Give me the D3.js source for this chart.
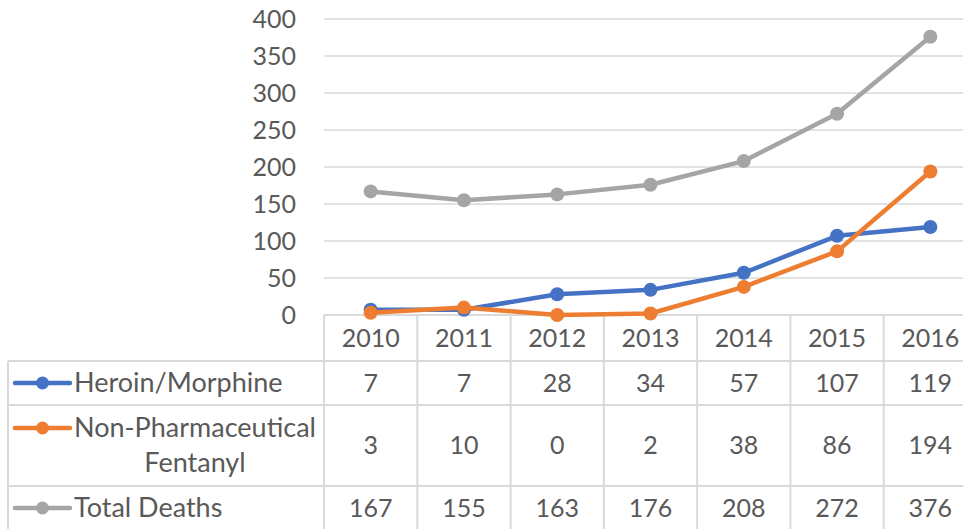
<!DOCTYPE html>
<html>
<head>
<meta charset="utf-8">
<script src="https://cdn.jsdelivr.net/npm/d3@7"></script>
<style>
  html, body { margin: 0; padding: 0; background: #fff; }
  svg { display: block; }
  text { font-family: "Lato", "Liberation Sans", sans-serif; fill: #595959; }
</style>
</head>
<body>
<svg id="chart" width="965" height="529"></svg>
<script>
const years = ["2010", "2011", "2012", "2013", "2014", "2015", "2016"];
const heroin = [7, 7, 28, 34, 57, 107, 119];
const fentanyl = [3, 10, 0, 2, 38, 86, 194];
const total = [167, 155, 163, 176, 208, 272, 376];
const yTicks = [0, 50, 100, 150, 200, 250, 300, 350, 400];
const seriesNames = ["Heroin/Morphine", "Non-Pharmaceutical Fentanyl", "Total Deaths"];
const seriesLabelLines = [["Heroin/Morphine"], ["Non-Pharmaceutical", "Fentanyl"], ["Total Deaths"]];
const seriesColors = ["#4472C4", "#ED7D31", "#A5A5A5"];

const series = [heroin, fentanyl, total].map((vals, i) => ({
  name: seriesNames[i], lines: seriesLabelLines[i], color: seriesColors[i],
  values: vals.map((v, j) => ({ year: years[j], value: v }))
}));

const W = 965, H = 529;
const plotLeft = 324, plotRight = 977, plotTop = 19, plotBottom = 315;
const tableLeft = 8, visibleRight = 963;
const rowEdges = [315, 361, 405, 486, 530];
const gridColor = "#D9D9D9";
const fontSize = 25;
const labelFontSize = 27;

const svg = d3.select("#chart");

const x = d3.scaleBand().domain(years).range([plotLeft, plotRight]);
const y = d3.scaleLinear().domain([0, 400]).range([plotBottom, plotTop]);

// gridlines
svg.append("g").selectAll("line").data(yTicks.filter(t => t > 0)).join("line")
  .attr("x1", plotLeft).attr("x2", visibleRight)
  .attr("y1", d => y(d)).attr("y2", d => y(d))
  .attr("stroke", gridColor).attr("stroke-width", 1.5);

// y axis labels
const yAxis = d3.axisLeft(y).tickValues(yTicks).tickSize(0).tickPadding(0).tickFormat(d3.format("d"));
const yg = svg.append("g").attr("transform", `translate(296,0)`).call(yAxis);
yg.select(".domain").remove();
yg.selectAll("text").attr("font-size", fontSize).style("font-family", "Lato, 'Liberation Sans', sans-serif").attr("fill", "#595959").attr("dy", "0.35em");

// table grid
const tg = svg.append("g").attr("stroke", gridColor).attr("stroke-width", 2);
tg.append("line").attr("x1", plotLeft).attr("x2", visibleRight).attr("y1", rowEdges[0]).attr("y2", rowEdges[0]);
rowEdges.slice(1, 4).forEach(e => {
  tg.append("line").attr("x1", tableLeft).attr("x2", visibleRight).attr("y1", e).attr("y2", e);
});
tg.append("line").attr("x1", tableLeft).attr("x2", tableLeft).attr("y1", rowEdges[1]).attr("y2", H);
years.forEach(yr => {
  tg.append("line").attr("x1", x(yr)).attr("x2", x(yr)).attr("y1", rowEdges[0]).attr("y2", H);
});

// header years
svg.append("g").selectAll("text").data(years).join("text")
  .attr("x", d => x(d) + x.bandwidth() / 2)
  .attr("y", (rowEdges[0] + rowEdges[1]) / 2)
  .attr("dy", "0.35em").attr("text-anchor", "middle").attr("font-size", fontSize)
  .text(d => d);

// rows
series.forEach((s, i) => {
  const top = rowEdges[i + 1], bottom = rowEdges[i + 2];
  const cy = (top + bottom) / 2;
  const lineH = 35;
  const firstLineY = cy - (s.lines.length - 1) * lineH / 2;
  svg.append("line").attr("x1", 15).attr("x2", 70).attr("y1", firstLineY).attr("y2", firstLineY)
    .attr("stroke", s.color).attr("stroke-width", 4.5).attr("stroke-linecap", "round");
  svg.append("circle").attr("cx", 42.5).attr("cy", firstLineY).attr("r", 6.5).attr("fill", s.color);
  s.lines.forEach((ln, k) => {
    const t = svg.append("text")
      .attr("y", firstLineY + k * lineH).attr("dy", "0.35em").attr("font-size", labelFontSize).text(ln);
    if (k === 0) t.attr("x", 74);
    else t.attr("x", 195).attr("text-anchor", "middle");
  });
  svg.append("g").selectAll("text").data(s.values).join("text")
    .attr("x", d => x(d.year) + x.bandwidth() / 2)
    .attr("y", cy).attr("dy", "0.35em").attr("text-anchor", "middle").attr("font-size", fontSize)
    .text(d => d.value);
});

// lines and markers
const line = d3.line().x(d => x(d.year) + x.bandwidth() / 2).y(d => y(d.value));
series.forEach(s => {
  const g = svg.append("g");
  g.append("path").datum(s.values).attr("d", line)
    .attr("fill", "none").attr("stroke", s.color).attr("stroke-width", 4.5)
    .attr("stroke-linejoin", "round").attr("stroke-linecap", "round");
  g.selectAll("circle").data(s.values).join("circle")
    .attr("cx", d => x(d.year) + x.bandwidth() / 2).attr("cy", d => y(d.value))
    .attr("r", 7).attr("fill", s.color);
});
</script>
</body>
</html>
